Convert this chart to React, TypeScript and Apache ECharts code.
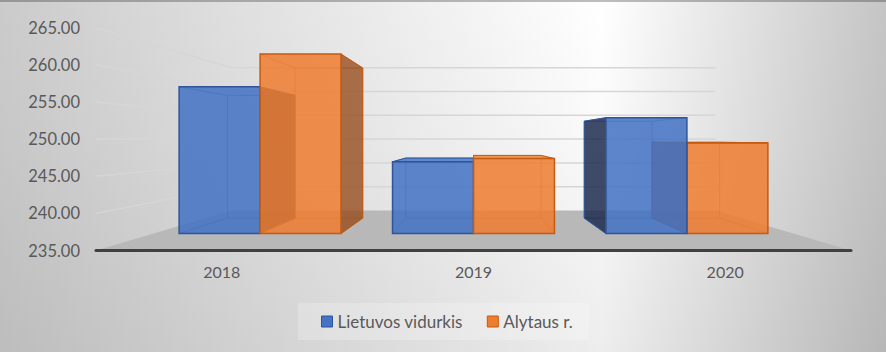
import React, { useEffect, useRef } from "react";
import * as echarts from "echarts";

// ---- data ----
const categories = ["2018", "2019", "2020"];
const seriesNames = ["Lietuvos vidurkis", "Alytaus r."];
const lietuvosVidurkis = [258.3, 246.4, 253.4];
const alytausR = [263.5, 246.9, 249.4];
const yMin = 235;
const yMax = 265;
const yInterval = 5;
const gridValues = [240, 245, 250, 255, 260, 265];

// ---- 3D look (layout constants) ----
const K_FRONT = 0.848;
const K_BACK = 0.709;
const K_WALL = 0.641;
const BAR_FRAC = 0.3794;
const FONT = "Lato, 'Liberation Sans', sans-serif";

const palette = [
  {
    front: "rgba(68,114,196,0.86)",
    side: "rgba(26,40,76,0.84)",
    top: "rgba(80,125,205,0.9)",
    edge: "#2f5597",
    hidden: "rgba(47,85,151,0.55)",
    legend: "#4472c4",
    legendBorder: "#2f5597",
  },
  {
    front: "rgba(237,125,49,0.86)",
    side: "rgba(150,74,24,0.78)",
    top: "rgba(240,140,70,0.9)",
    edge: "#c55a11",
    hidden: "rgba(197,90,17,0.55)",
    legend: "#ed7d31",
    legendBorder: "#c55a11",
  },
];

function proj(vx: number, vy: number) {
  return (x: number, y: number, k: number) => [vx + (x - vx) * k, vy + (y - vy) * k];
}

function makeBarRender(si: number) {
  return (params: any, api: any) => {
    const cs = params.coordSys;
    const vx = cs.x + cs.width / 2;
    const vy = cs.y + cs.height / 2;
    const P = proj(vx, vy);
    const cat = api.value(0);
    const val = api.value(1);
    const top = api.coord([cat, val]);
    const base = api.coord([cat, yMin]);
    const cw = api.size([1, 0])[0];
    const bw = cw * BAR_FRAC;
    const x0 = si === 0 ? top[0] - bw : top[0];
    const x1 = x0 + bw;
    const y0 = top[1];
    const y1 = base[1];
    const F = [P(x0, y0, K_FRONT), P(x1, y0, K_FRONT), P(x1, y1, K_FRONT), P(x0, y1, K_FRONT)];
    const B = [P(x0, y0, K_BACK), P(x1, y0, K_BACK), P(x1, y1, K_BACK), P(x0, y1, K_BACK)];
    const c = palette[si];
    const dist = Math.abs((x0 + x1) / 2 - vx);
    const zb = Math.round(2000 - dist) * 10;
    const children: any[] = [];
    children.push({
      type: "polyline",
      shape: { points: [B[0], B[1], B[2], B[3], B[0]] },
      style: { stroke: c.hidden, lineWidth: 1, fill: null },
      z2: zb,
    });
    for (let i = 0; i < 4; i++) {
      children.push({
        type: "line",
        shape: { x1: F[i][0], y1: F[i][1], x2: B[i][0], y2: B[i][1] },
        style: { stroke: c.hidden, lineWidth: 1 },
        z2: zb,
      });
    }
    if (x1 < vx) {
      children.push({
        type: "polygon",
        shape: { points: [F[1], B[1], B[2], F[2]] },
        style: { fill: c.side, stroke: c.edge, lineWidth: 1 },
        z2: zb + 1,
      });
    } else if (x0 > vx) {
      children.push({
        type: "polygon",
        shape: { points: [F[0], B[0], B[3], F[3]] },
        style: { fill: c.side, stroke: c.edge, lineWidth: 1 },
        z2: zb + 1,
      });
    }
    if (y0 > vy) {
      children.push({
        type: "polygon",
        shape: { points: [F[0], F[1], B[1], B[0]] },
        style: { fill: c.top, stroke: c.edge, lineWidth: 1 },
        z2: zb + 2,
      });
    }
    children.push({
      type: "polygon",
      shape: { points: F },
      style: { fill: c.front, stroke: c.edge, lineWidth: 1.5 },
      z2: zb + 3,
    });
    return { type: "group", children };
  };
}

function floorRender(params: any, api: any) {
  const cs = params.coordSys;
  const vx = cs.x + cs.width / 2;
  const vy = cs.y + cs.height / 2;
  const P = proj(vx, vy);
  const yb = api.coord([0, api.value(1)])[1];
  const xl = cs.x;
  const xr = cs.x + cs.width;
  return {
    type: "polygon",
    shape: { points: [[xl, yb], [xr, yb], P(xr, yb, K_WALL), P(xl, yb, K_WALL)] },
    style: { fill: "#b8b8b8" },
  };
}

function gridRender(params: any, api: any) {
  const cs = params.coordSys;
  const vx = cs.x + cs.width / 2;
  const vy = cs.y + cs.height / 2;
  const P = proj(vx, vy);
  const y = api.coord([0, api.value(1)])[1];
  const xl = cs.x;
  const xr = cs.x + cs.width;
  return {
    type: "polyline",
    shape: { points: [[xl, y], P(xl, y, K_WALL), P(xr, y, K_WALL)] },
    style: { stroke: "#d6d6d6", lineWidth: 1.5, fill: null },
  };
}

export default function App() {
  const ref = useRef<HTMLDivElement>(null);
  useEffect(() => {
    document.body.style.margin = "0";
    if (!ref.current) return;
    const chart = echarts.init(ref.current, undefined, { renderer: "svg" });
    const valuesBySeries = [lietuvosVidurkis, alytausR];
    chart.setOption({
      animation: false,
      backgroundColor: "transparent",
      textStyle: { fontFamily: FONT },
      grid: { left: 96, right: 35, top: 27.7, bottom: 101.5, containLabel: false },
      xAxis: {
        type: "category",
        data: categories,
        axisLine: { lineStyle: { color: "#404040", width: 3 } },
        axisTick: { show: false },
        axisLabel: { color: "#595959", fontSize: 16, fontFamily: FONT, margin: 13 },
        splitLine: { show: false },
        z: 5,
      },
      yAxis: {
        type: "value",
        min: yMin,
        max: yMax,
        interval: yInterval,
        axisLine: { show: false },
        axisTick: { show: false },
        splitLine: { show: false },
        axisLabel: {
          color: "#595959",
          fontSize: 16.5,
          fontFamily: FONT,
          margin: 16,
          formatter: (v: number) => v.toFixed(2),
        },
      },
      legend: {
        left: 298,
        top: 303,
        padding: [10, 16, 10, 23],
        itemGap: 24,
        itemWidth: 11,
        itemHeight: 11,
        backgroundColor: "rgba(255,255,255,0.22)",
        textStyle: { color: "#595959", fontSize: 17, fontFamily: FONT },
        data: seriesNames.map((n, i) => ({
          name: n,
          icon: "rect",
          itemStyle: { color: palette[i].legend, borderColor: palette[i].legendBorder, borderWidth: 1 },
        })),
      },
      series: [
        {
          type: "custom",
          name: "floor",
          silent: true,
          z: 1,
          clip: false,
          renderItem: floorRender,
          encode: { x: 0, y: 1 },
          data: [[0, yMin]],
        },
        {
          type: "custom",
          name: "grid",
          silent: true,
          z: 1,
          clip: false,
          renderItem: gridRender,
          encode: { x: 0, y: 1 },
          data: gridValues.map((v) => [0, v]),
        },
        ...seriesNames.map((n, si) => ({
          type: "custom",
          name: n,
          z: 3,
          clip: false,
          itemStyle: { color: palette[si].legend },
          renderItem: makeBarRender(si),
          encode: { x: 0, y: 1 },
          data: valuesBySeries[si].map((v, i) => [i, v]),
        })),
      ],
    });
    return () => chart.dispose();
  }, []);
  return (
    <div
      ref={ref}
      style={{
        width: 886,
        height: 352,
        backgroundImage:
          "linear-gradient(#bdbdbd, #bdbdbd), linear-gradient(to right, #cbcbcb 0%, #ffffff 68%, #c5c5c5 100%), linear-gradient(to bottom, #ffffff 0%, #fafafa 40%, #ededed 100%)",
        backgroundSize: "100% 2px, 100% 100%, 100% 100%",
        backgroundRepeat: "no-repeat",
        backgroundBlendMode: "multiply",
      }}
    />
  );
}
